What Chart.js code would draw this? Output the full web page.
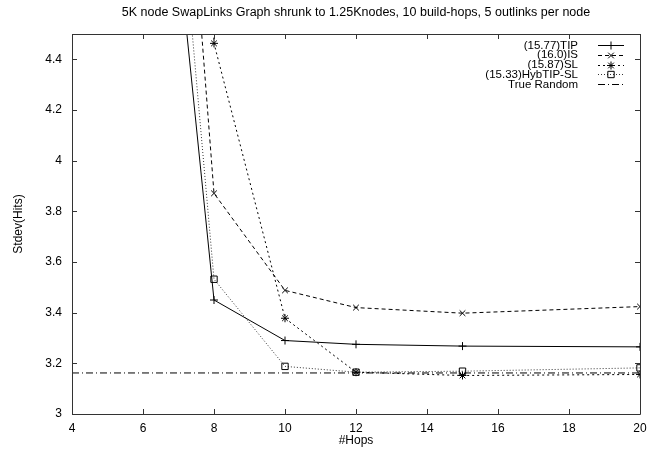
<!DOCTYPE html>
<html>
<head>
<meta charset="utf-8">
<script src="https://cdn.jsdelivr.net/npm/chart.js@4/dist/chart.umd.min.js"></script>
<style>
  html, body { margin: 0; padding: 0; background: #fff; }
</style>
</head>
<body>
<canvas id="chart" width="662" height="456"></canvas>
<script>
const hops = [6, 8, 10, 12, 15, 20];
const tipValues = [6.2, 3.45, 3.29, 3.275, 3.268, 3.265];
const isValues = [7.5, 3.871, 3.488, 3.42, 3.398, 3.424];
const slValues = [12, 4.463, 3.378, 3.165, 3.152, 3.156];
const hybValues = [6.7, 3.532, 3.188, 3.165, 3.169, 3.182];
const randomHops = [4, 20];
const randomValues = [3.162, 3.162];
const seriesLabels = ['(15.77)TIP', '(16.0)IS', '(15.87)SL', '(15.33)HybTIP-SL', 'True Random'];

const FONT = 'Liberation Sans, Arial, Helvetica, sans-serif';
const FONT_SIZE = 12;
const toPoints = (xs, ys) => xs.map((x, i) => ({ x, y: ys[i] }));

const baseSet = {
  borderColor: '#000',
  borderWidth: 1,
  pointBorderColor: '#000',
  pointBackgroundColor: 'rgba(0,0,0,0)',
  pointBorderWidth: 1,
  pointRadius: 4,
  fill: false,
  tension: 0,
};

const datasets = [
  { ...baseSet, label: seriesLabels[0], data: toPoints(hops, tipValues), pointStyle: 'cross' },
  { ...baseSet, label: seriesLabels[1], data: toPoints(hops, isValues), pointStyle: 'crossRot', borderDash: [4, 3] },
  { ...baseSet, label: seriesLabels[2], data: toPoints(hops, slValues), pointStyle: 'star', borderDash: [2, 3] },
  { ...baseSet, label: seriesLabels[3], data: toPoints(hops, hybValues), pointStyle: 'rect', pointRadius: 4.5, borderDash: [1, 2], borderColor: '#333' },
  { ...baseSet, label: seriesLabels[4], data: toPoints(randomHops, randomValues), pointRadius: 0, borderDash: [7, 3, 1, 3] },
];

// gnuplot style frame with inward ticks on all four sides, plus the key
const framePlugin = {
  id: 'frame',
  afterDraw(chart) {
    const { ctx, chartArea: a, scales } = chart;
    ctx.save();
    ctx.strokeStyle = '#333';
    ctx.lineWidth = 1;
    ctx.beginPath();
    ctx.rect(Math.round(a.left) + 0.5, Math.round(a.top) + 0.5, Math.round(a.right - a.left), Math.round(a.bottom - a.top));
    const len = 5;
    scales.x.ticks.forEach(t => {
      const px = Math.round(scales.x.getPixelForValue(t.value)) + 0.5;
      ctx.moveTo(px, a.bottom); ctx.lineTo(px, a.bottom - len);
      ctx.moveTo(px, a.top); ctx.lineTo(px, a.top + len);
    });
    scales.y.ticks.forEach(t => {
      const py = Math.round(scales.y.getPixelForValue(t.value)) + 0.5;
      ctx.moveTo(a.left, py); ctx.lineTo(a.left + len, py);
      ctx.moveTo(a.right, py); ctx.lineTo(a.right - len, py);
    });
    ctx.stroke();

    const textRight = a.right - 62;
    const x0 = a.right - 42, x1 = a.right - 16;
    const rowH = 9.8;
    ctx.font = '11.5px ' + FONT;
    ctx.textAlign = 'right';
    ctx.textBaseline = 'middle';
    chart.data.datasets.forEach((ds, i) => {
      const y = a.top + 11 + i * rowH;
      const ly = Math.round(y) + 0.5;
      ctx.fillStyle = '#000';
      ctx.fillText(ds.label, textRight, y + 0.5);
      ctx.save();
      ctx.strokeStyle = ds.borderColor;
      ctx.setLineDash(ds.borderDash || []);
      ctx.beginPath();
      ctx.moveTo(x0, ly);
      ctx.lineTo(x1, ly);
      ctx.stroke();
      ctx.restore();
      if (ds.pointRadius > 0) {
        ctx.save();
        ctx.fillStyle = 'rgba(0,0,0,0)';
        ctx.strokeStyle = '#000';
        Chart.helpers.drawPoint(ctx, {
          pointStyle: ds.pointStyle, radius: ds.pointRadius, rotation: 0, borderWidth: 1,
        }, (x0 + x1) / 2, ly);
        ctx.restore();
      }
    });
    ctx.restore();
  }
};

new Chart(document.getElementById('chart'), {
  type: 'line',
  data: { datasets },
  plugins: [framePlugin],
  options: {
    responsive: false,
    animation: false,
    layout: { padding: { top: 0, right: 22, left: 0, bottom: 0 } },
    plugins: {
      legend: { display: false },
      tooltip: { enabled: false },
      title: {
        display: true,
        fullSize: false,
        text: '5K node SwapLinks Graph shrunk to 1.25Knodes, 10 build-hops, 5 outlinks per node',
        color: '#000',
        font: { family: FONT, size: 12.5, weight: 'normal' },
        padding: { top: 5, bottom: 14 },
      },
    },
    scales: {
      x: {
        type: 'linear',
        min: 4,
        max: 20,
        afterFit: s => { s.height = 42; },
        grid: { display: false, drawTicks: false },
        border: { display: false },
        ticks: { stepSize: 2, color: '#000', padding: 7, font: { family: FONT, size: FONT_SIZE } },
        title: { display: true, text: '#Hops', color: '#000', padding: { top: 0, bottom: 8 }, font: { family: FONT, size: FONT_SIZE } },
      },
      y: {
        min: 3,
        max: 4.5,
        afterFit: s => { s.width = 72; },
        afterBuildTicks: s => { s.ticks = s.ticks.filter(t => t.value < 4.45); },
        grid: { display: false, drawTicks: false },
        border: { display: false },
        ticks: {
          stepSize: 0.2, color: '#000', padding: 10, font: { family: FONT, size: FONT_SIZE },
          callback: v => String(+v.toFixed(1)),
        },
        title: { display: true, text: 'Stdev(Hits)', color: '#000', padding: { top: 11, bottom: 0 }, font: { family: FONT, size: FONT_SIZE } },
      },
    },
  },
});
</script>
</body>
</html>
